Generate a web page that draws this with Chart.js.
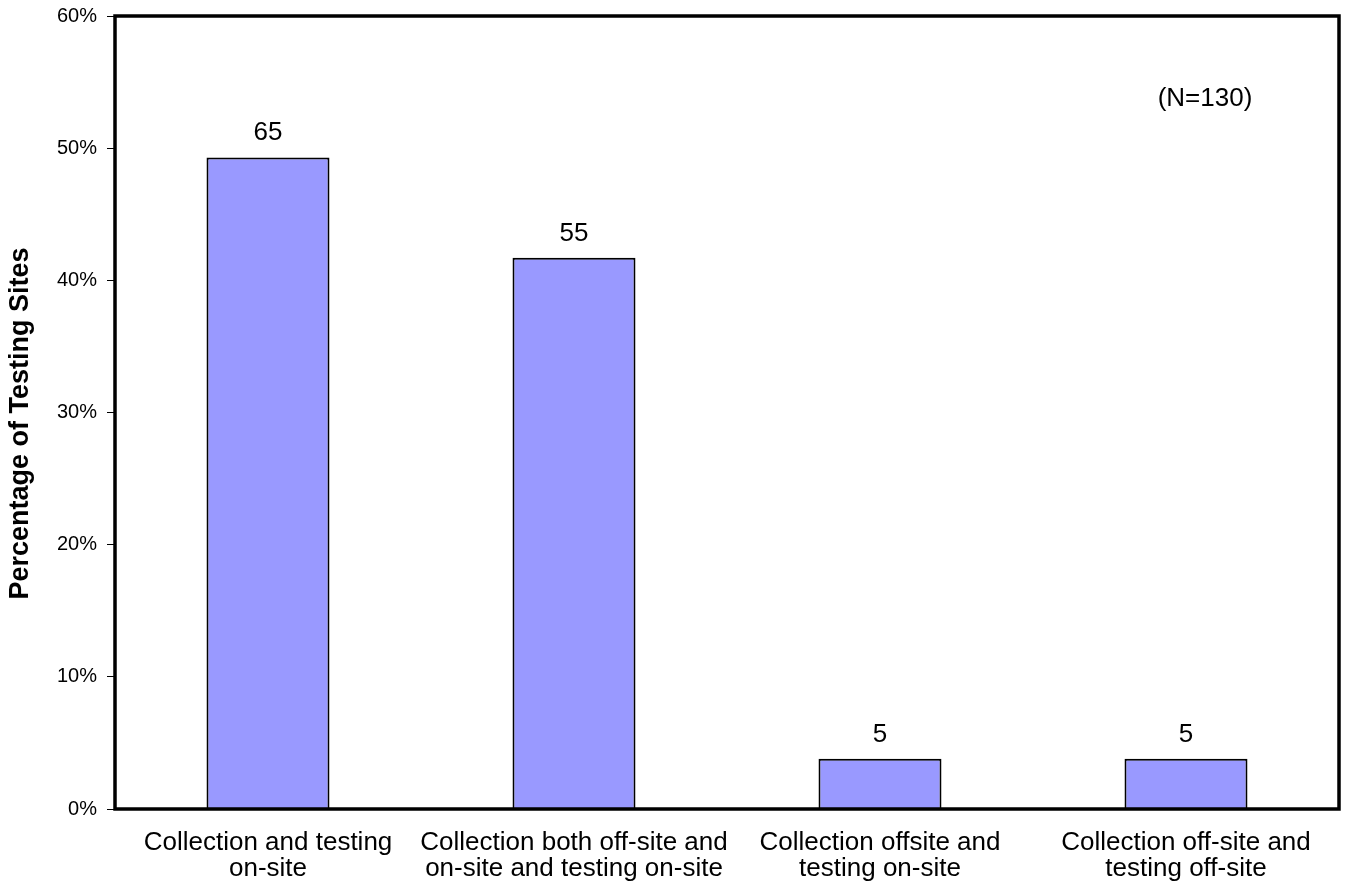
<!DOCTYPE html>
<html>
<head>
<meta charset="utf-8">
<script src="https://cdn.jsdelivr.net/npm/chart.js@4.4.1/dist/chart.umd.min.js"></script>
<style>
  html, body { margin: 0; padding: 0; background: #fff; }
  #wrap { width: 1347px; height: 885px; position: relative; }
</style>
</head>
<body>
<div id="wrap"><canvas id="chart"></canvas></div>
<script>
// Testing-site arrangements: share of sites (%) and number of sites per category
const categories = [
  ['Collection and testing', 'on-site'],
  ['Collection both off-site and', 'on-site and testing on-site'],
  ['Collection offsite and', 'testing on-site'],
  ['Collection off-site and', 'testing off-site']
];
const sitePercent = [49.3, 41.7, 3.8, 3.8];
const siteCount = [65, 55, 5, 5];
const sampleNote = '(N=130)';
const yTitle = 'Percentage of Testing Sites';
const yTicks = [0, 10, 20, 30, 40, 50, 60];

const FONT = '"Liberation Sans", Arial, sans-serif';

// Frame around the plot, count labels above bars, sample-size note, axis title
const decorations = {
  id: 'decorations',
  afterDatasetsDraw(chart) {
    const { ctx, chartArea: a } = chart;
    const meta = chart.getDatasetMeta(0);
    ctx.save();
    ctx.fillStyle = '#000';
    ctx.font = '26px ' + FONT;
    ctx.textAlign = 'center';
    ctx.textBaseline = 'alphabetic';
    meta.data.forEach((bar, i) => {
      ctx.fillText(String(siteCount[i]), bar.x, bar.y - 17);
    });
    ctx.textBaseline = 'middle';
    ctx.fillText(sampleNote, a.right - 134, a.top + 83);

    // rotated y-axis title
    ctx.save();
    ctx.translate(21, (a.top + a.bottom) / 2 + 11);
    ctx.rotate(-Math.PI / 2);
    ctx.font = 'bold 27px ' + FONT;
    ctx.textAlign = 'center';
    ctx.textBaseline = 'middle';
    ctx.fillText(yTitle, 0, 0);
    ctx.restore();

    ctx.strokeStyle = '#000';
    ctx.lineWidth = 3.5;
    ctx.strokeRect(a.left, a.top, a.right - a.left, a.bottom - a.top);
    ctx.restore();
  }
};

new Chart(document.getElementById('chart'), {
  type: 'bar',
  data: {
    labels: categories,
    datasets: [{
      data: sitePercent,
      backgroundColor: '#9999FF',
      borderColor: '#000',
      borderWidth: 2,
      barPercentage: 0.402,
      categoryPercentage: 1
    }]
  },
  options: {
    responsive: true,
    maintainAspectRatio: false,
    animation: false,
    layout: { padding: { top: 16, right: 8, bottom: 0, left: 0 } },
    plugins: { legend: { display: false }, tooltip: { enabled: false } },
    scales: {
      x: {
        grid: { display: false },
        border: { display: false },
        ticks: {
          color: '#000',
          font: { family: FONT, size: 26, lineHeight: 1.0 },
          padding: 13,
          maxRotation: 0,
          autoSkip: false
        },
        afterFit(scale) { scale.height = 76; }
      },
      y: {
        min: 0,
        max: 60,
        afterBuildTicks(scale) { scale.ticks = yTicks.map(v => ({ value: v })); },
        grid: {
          drawOnChartArea: false,
          drawTicks: true,
          tickLength: 8,
          color: '#000',
          lineWidth: 1
        },
        border: { display: false },
        ticks: {
          color: '#000',
          font: { family: FONT, size: 20, lineHeight: 0.4 },
          padding: 10,
          callback: v => v + '%'
        },
        afterFit(scale) { scale.width = 115; }
      }
    }
  },
  plugins: [decorations]
});
</script>
</body>
</html>
